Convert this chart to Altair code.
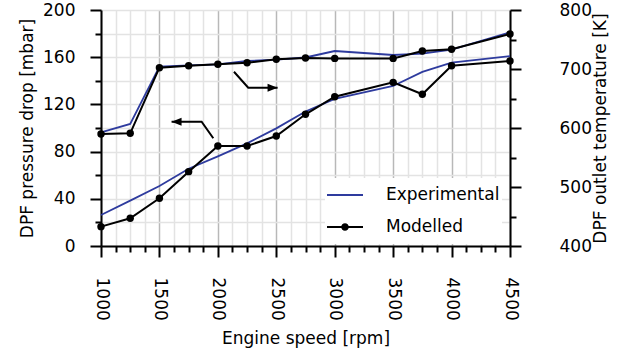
import altair as alt
import pandas as pd

# Engine speed sweep [rpm]
rpm = [1000, 1250, 1500, 1750, 2000, 2250, 2500, 2750, 3000, 3500, 3750, 4000, 4500]

# DPF pressure drop [mbar]
dp_experimental = [26.3, 38.5, 50.8, 65.5, 76.0, 87.0, 99.7, 114.0, 124.6, 135.6, 147.5, 155.4, 161.0]
dp_modelled = [16.4, 23.5, 40.4, 63.0, 84.7, 84.7, 93.2, 111.6, 126.5, 138.7, 128.6, 152.8, 156.8]

# DPF outlet temperature [K]
t_experimental = [592.7, 606.8, 704.0, 706.0, 708.0, 713.6, 716.0, 719.5, 730.5, 723.7, 726.0, 733.0, 762.0]
t_modelled = [589.8, 591.0, 702.2, 705.6, 708.0, 710.7, 716.4, 718.6, 718.0, 718.0, 730.5, 733.4, 759.3]

series_names = ["Experimental", "Modelled"]
series_colors = ["#2E3B9E", "#000000"]

# Pointer arrows (rpm, mbar); the last vertex is the arrow tip
arrow_left_rpm = [1961, 1861, 1604]
arrow_left_dp = [91.3, 105.3, 105.3]
arrow_right_rpm = [2138, 2260, 2511]
arrow_right_dp = [147.7, 134.2, 134.2]

FONT = "DejaVu Sans"
BLUE = series_colors[0]

df = pd.DataFrame({
    "rpm": rpm,
    "dp_exp": dp_experimental,
    "dp_mod": dp_modelled,
    "t_exp": t_experimental,
    "t_mod": t_modelled,
})

arrows = pd.DataFrame({
    "arrow": ["left"] * 3 + ["right"] * 3,
    "step": [0, 1, 2, 0, 1, 2],
    "rpm": arrow_left_rpm + arrow_right_rpm,
    "dp": arrow_left_dp + arrow_right_dp,
})


def major(step, big, small):
    return {"condition": {"test": f"datum.value % {step} === 0", "value": big}, "value": small}


x_enc = alt.X(
    "rpm:Q",
    scale=alt.Scale(domain=[1000, 4500], nice=False, zero=False),
    axis=alt.Axis(
        title="Engine speed [rpm]",
        values=list(range(1000, 4501, 125)),
        format="d",
        labelExpr="datum.value % 500 === 0 ? datum.label : ''",
        labelAngle=90,
        labelPadding=20,
        titlePadding=10,
        labelOverlap=False,
        labelFlush=False,
        tickSize=major(500, 11, 6),
        gridColor=major(500, "#b8b8b8", "#e3e3e3"),
    ),
)

yl_scale = alt.Scale(domain=[0, 200], nice=False, zero=False)
yl_axis = alt.Axis(
    title="DPF pressure drop [mbar]",
    values=list(range(0, 201, 20)),
    labelExpr="datum.value % 40 === 0 ? datum.label : ''",
    tickSize=major(40, 11, 6),
    labelPadding=15,
    titlePadding=6,
    gridColor="#e3e3e3",
    labelOverlap=False,
    labelFlush=False,
)

yr_scale = alt.Scale(domain=[400, 800], nice=False, zero=False)
yr_axis = alt.Axis(
    orient="right",
    title="DPF outlet temperature [K]",
    titleAngle=270,
    values=list(range(400, 801, 50)),
    labelExpr="datum.value % 100 === 0 ? datum.label : ''",
    tickSize=major(100, 11, 6),
    labelPadding=38,
    titlePadding=18,
    grid=False,
    labelOverlap=False,
    labelFlush=False,
)


def yl(field):
    return alt.Y(field, scale=yl_scale, axis=yl_axis)


def yr(field):
    return alt.Y(field, scale=yr_scale, axis=yr_axis)


base = alt.Chart(df)

# Pressure drop (left axis)
dp_exp_line = base.mark_line(color=BLUE, strokeWidth=1.8).encode(x=x_enc, y=yl("dp_exp:Q"))
dp_mod_line = base.mark_line(color="black", strokeWidth=2).encode(x=x_enc, y=yl("dp_mod:Q"))
dp_mod_pts = base.mark_point(filled=True, color="black", size=55, opacity=1).encode(
    x=x_enc, y=yl("dp_mod:Q")
)

arrow_base = alt.Chart(arrows)
arrow_lines = arrow_base.mark_line(color="black", strokeWidth=2).encode(
    x=x_enc, y=yl("dp:Q"), detail="arrow:N", order="step:Q"
)
head_left = arrow_base.transform_filter(
    "datum.arrow === 'left' && datum.step === 2"
).mark_point(filled=True, color="black", opacity=1, size=100).encode(
    x=x_enc, y=yl("dp:Q"), shape=alt.value("M0,0L2,-0.8L2,0.8Z")
)
head_right = arrow_base.transform_filter(
    "datum.arrow === 'right' && datum.step === 2"
).mark_point(filled=True, color="black", opacity=1, size=100).encode(
    x=x_enc, y=yl("dp:Q"), shape=alt.value("M0,0L-2,-0.8L-2,0.8Z")
)

# Legend carrier: draws nothing, its scales give the legend entries
legend_layer = base.transform_calculate(series="'Modelled'").transform_filter("false").mark_point(
    filled=True, size=1296, opacity=1
).encode(
    x=x_enc,
    y=yl("dp_mod:Q"),
    color=alt.Color(
        "series:N",
        scale=alt.Scale(domain=series_names, range=series_colors),
        legend=alt.Legend(
            title=None,
            orient="none",
            legendX=224,
            legendY=168,
            symbolSize=1296,
            symbolStrokeWidth=0,
            symbolOpacity=1,
            labelOffset=23,
            labelFont=FONT,
            labelFontSize=17,
            labelColor="black",
            fillColor="white",
            padding=2,
            clipHeight=30,
            rowPadding=2,
        ),
    ),
    shape=alt.Shape(
        "series:N",
        scale=alt.Scale(
            domain=series_names,
            range=[
                "M-1,-0.05H1V0.05H-1Z",
                "M-1,-0.06H1V0.06H-1Z M-0.21,0A0.21,0.21,0,1,1,0.21,0A0.21,0.21,0,1,1,-0.21,0Z",
            ],
        ),
    ),
)

left = alt.layer(dp_exp_line, dp_mod_line, dp_mod_pts, arrow_lines, head_left, head_right, legend_layer)

# Outlet temperature (right axis)
t_exp_line = base.mark_line(color=BLUE, strokeWidth=1.8).encode(x=x_enc, y=yr("t_exp:Q"))
t_mod_line = base.mark_line(color="black", strokeWidth=2).encode(x=x_enc, y=yr("t_mod:Q"))
t_mod_pts = base.mark_point(filled=True, color="black", size=55, opacity=1).encode(
    x=x_enc, y=yr("t_mod:Q")
)
right = alt.layer(t_exp_line, t_mod_line, t_mod_pts)

chart = (
    alt.layer(left, right)
    .resolve_scale(y="independent")
    .properties(
        width=409,
        height=236,
        autosize=alt.AutoSizeParams(type="none"),
        padding={"left": 101, "top": 10, "right": 109, "bottom": 104},
    )
    .configure_view(stroke="transparent")
    .configure_axis(
        labelFont=FONT,
        titleFont=FONT,
        labelFontSize=17,
        titleFontSize=17,
        titleFontWeight="normal",
        labelColor="black",
        titleColor="black",
        domainColor="black",
        domainWidth=2,
        tickColor="black",
        tickWidth=2,
        gridWidth=1.5,
    )
)

chart.save("out.html", embed_options={"renderer": "svg", "actions": False})
